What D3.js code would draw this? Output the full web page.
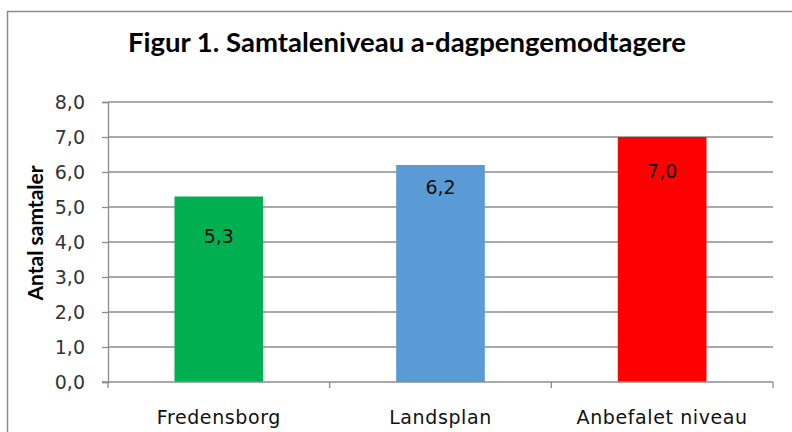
<!DOCTYPE html>
<html><head><meta charset="utf-8">
<script src="https://cdn.jsdelivr.net/npm/d3@7"></script>
<style>html,body{margin:0;padding:0;background:#fff;}svg{display:block;}</style>
</head><body>
<svg id="c" width="792" height="432"></svg>
<script>
const title = "Figur 1. Samtaleniveau a-dagpengemodtagere";
const yTitle = "Antal samtaler";
const categories = ["Fredensborg", "Landsplan", "Anbefalet niveau"];
const values = [5.3, 6.2, 7.0];
const colors = ["#00B050", "#5B9BD5", "#FF0000"];
const yTicks = [0, 1, 2, 3, 4, 5, 6, 7, 8];

const svg = d3.select("#c");
const fmt = v => d3.format(".1f")(v).replace(".", ",");
const W = 792, H = 432;
const m = {left: 108, right: 19, top: 102, bottom: 50};

svg.append("rect").attr("x", 7.5).attr("y", 11.5).attr("width", 800).attr("height", 440)
  .attr("fill", "#fff").attr("stroke", "#8c8c8c").attr("stroke-width", 1.5);

svg.append("text").attr("x", 407).attr("y", 52).attr("text-anchor", "middle")
  .attr("font-family", "Lato, 'Open Sans', sans-serif").attr("font-weight", "bold")
  .attr("font-size", 27.5).attr("fill", "#000").text(title);

const x = d3.scaleBand().domain(categories).range([m.left, W - m.right]).padding(0);
const y = d3.scaleLinear().domain([0, 8]).range([H - m.bottom, m.top]);

// gridlines
svg.append("g").selectAll("line").data(yTicks.filter(d => d > 0)).join("line")
  .attr("x1", m.left).attr("x2", W - m.right)
  .attr("y1", d => y(d)).attr("y2", d => y(d))
  .attr("stroke", "#8c8c8c").attr("stroke-width", 1.3);

// y axis
const ya = svg.append("g").attr("transform", `translate(${m.left},0)`)
  .call(d3.axisLeft(y).tickValues(yTicks).tickFormat(fmt).tickSize(6).tickPadding(17));
ya.select(".domain").attr("stroke", "#8c8c8c").attr("stroke-width", 1.3);
ya.selectAll(".tick line").attr("stroke", "#8c8c8c").attr("stroke-width", 1.3);
ya.selectAll("text").attr("font-family", "'DejaVu Sans', Verdana, sans-serif")
  .attr("font-size", 19).attr("fill", "#333");

// bars
const barW = x.bandwidth() * 0.4;
svg.append("g").selectAll("rect").data(values).join("rect")
  .attr("x", (d, i) => x(categories[i]) + (x.bandwidth() - barW) / 2)
  .attr("y", d => y(d)).attr("width", barW).attr("height", d => y(0) - y(d))
  .attr("fill", (d, i) => colors[i]);

// value labels
const labelDy = [40, 22, 34];
svg.append("g").selectAll("text").data(values).join("text")
  .attr("x", (d, i) => x(categories[i]) + x.bandwidth() / 2)
  .attr("y", (d, i) => y(d) + labelDy[i]).attr("dy", "0.35em")
  .attr("text-anchor", "middle").attr("font-family", "'DejaVu Sans', Verdana, sans-serif")
  .attr("font-size", 19).attr("fill", "#111").text(d => fmt(d));

// x axis
const xa = svg.append("g").attr("transform", `translate(0,${y(0)})`)
  .call(d3.axisBottom(x).tickSize(0).tickPadding(29));
xa.select(".domain").attr("stroke", "#8c8c8c").attr("stroke-width", 1.3)
  .attr("d", `M${m.left - 6},0H${W - m.right}`);
xa.selectAll("text").attr("font-family", "'DejaVu Sans', Verdana, sans-serif")
  .attr("font-size", 19).attr("letter-spacing", 0.6).attr("fill", "#111");
svg.append("g").selectAll("line").data(d3.range(categories.length + 1)).join("line")
  .attr("x1", i => m.left + i * x.step()).attr("x2", i => m.left + i * x.step())
  .attr("y1", y(0)).attr("y2", y(0) + 6).attr("stroke", "#8c8c8c").attr("stroke-width", 1.3);

svg.append("text").attr("transform", `translate(43,233) rotate(-90)`)
  .attr("text-anchor", "middle").attr("font-family", "Lato, 'Open Sans', sans-serif")
  .attr("font-weight", "bold").attr("font-size", 21).attr("fill", "#000").text(yTitle);
</script>
</body></html>
